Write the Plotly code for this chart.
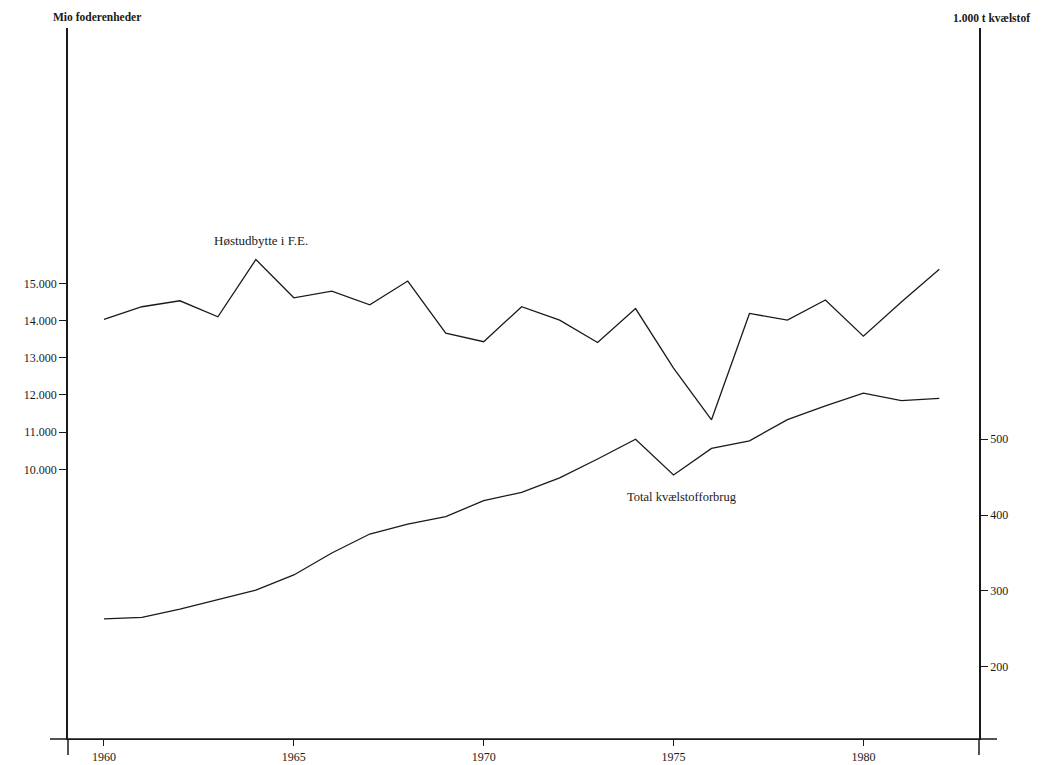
import plotly.graph_objects as go

years = list(range(1960, 1983))
hoestudbytte = [14030, 14370, 14530, 14100, 15640, 14610, 14790, 14420, 15060, 13660,
                13430, 14370, 14010, 13410, 14320, 12720, 11330, 14190, 14010, 14550,
                13580, 14500, 15380]
kvaelstof = [263, 265, 276, 288, 301, 321, 350, 375, 388, 398,
             419, 430, 449, 474, 500, 453, 488, 498, 526, 544,
             561, 551, 554]

x_ticks = [1960, 1965, 1970, 1975, 1980]
left_ticks = [10000, 11000, 12000, 13000, 14000, 15000]
left_ticktext = ["10.000", "11.000", "12.000", "13.000", "14.000", "15.000"]
right_ticks = [200, 300, 400, 500]

FONT = "Liberation Serif"
INK = "#1a1a1a"

fig = go.Figure()
fig.add_trace(go.Scatter(x=years, y=hoestudbytte, mode="lines",
                         line=dict(color=INK, width=1.3), yaxis="y", showlegend=False))
fig.add_trace(go.Scatter(x=years, y=kvaelstof, mode="lines",
                         line=dict(color=INK, width=1.3), yaxis="y2", showlegend=False))

fig.update_layout(
    width=1047, height=765,
    margin=dict(l=68, r=68, t=28, b=26),
    paper_bgcolor="white", plot_bgcolor="white",
    font=dict(family=FONT, size=12, color=INK),
    xaxis=dict(range=[1959.052, 1983.045], tickvals=x_ticks, showgrid=False, zeroline=False,
               showline=True, linecolor=INK, linewidth=1.3, ticks="outside", ticklen=6,
               tickcolor=INK, tickfont=dict(family=FONT, size=12, color=INK), automargin=False),
    yaxis=dict(range=[2750, 21863], tickvals=left_ticks, ticktext=left_ticktext,
               showgrid=False, zeroline=False, showline=True, linecolor=INK, linewidth=1.5,
               ticks="outside", ticklen=7, tickcolor=INK,
               tickfont=dict(family=FONT, size=12, color=INK), automargin=False),
    yaxis2=dict(range=[104.6, 1042.6], tickvals=right_ticks, overlaying="y", side="right",
                showgrid=False, zeroline=False, showline=True, linecolor=INK, linewidth=1.5,
                ticks="outside", ticklen=7, tickcolor=INK,
                tickfont=dict(family=FONT, size=12, color=INK), automargin=False),
    showlegend=False,
)

# axis extensions beyond the plotting frame
fig.add_shape(type="line", xref="paper", yref="paper", x0=-0.0198, x1=1.0198, y0=0, y1=0,
              line=dict(color=INK, width=1.3))
fig.add_shape(type="line", xref="paper", yref="paper", x0=0, x1=0, y0=-0.0225, y1=0,
              line=dict(color=INK, width=1.5))
fig.add_shape(type="line", xref="paper", yref="paper", x0=1, x1=1, y0=-0.0225, y1=0,
              line=dict(color=INK, width=1.5))

fig.add_annotation(text="<b>Mio foderenheder</b>", xref="paper", yref="paper",
                   x=0.032, y=1.0155, xanchor="center", yanchor="middle", showarrow=False,
                   font=dict(family=FONT, size=11.5, color=INK))
fig.add_annotation(text="<b>1.000 t kvælstof</b>", xref="paper", yref="paper",
                   x=1.0132, y=1.0141, xanchor="center", yanchor="middle", showarrow=False,
                   font=dict(family=FONT, size=11.5, color=INK))
fig.add_annotation(text="Høstudbytte i F.E.", xref="x", yref="y", x=1964.13, y=16164,
                   xanchor="center", yanchor="middle", showarrow=False,
                   font=dict(family=FONT, size=13, color=INK))
fig.add_annotation(text="Total kvælstofforbrug", xref="x", yref="y2", x=1975.22, y=423.9,
                   xanchor="center", yanchor="middle", showarrow=False,
                   font=dict(family=FONT, size=12.5, color=INK))

fig.write_html("out.html")
